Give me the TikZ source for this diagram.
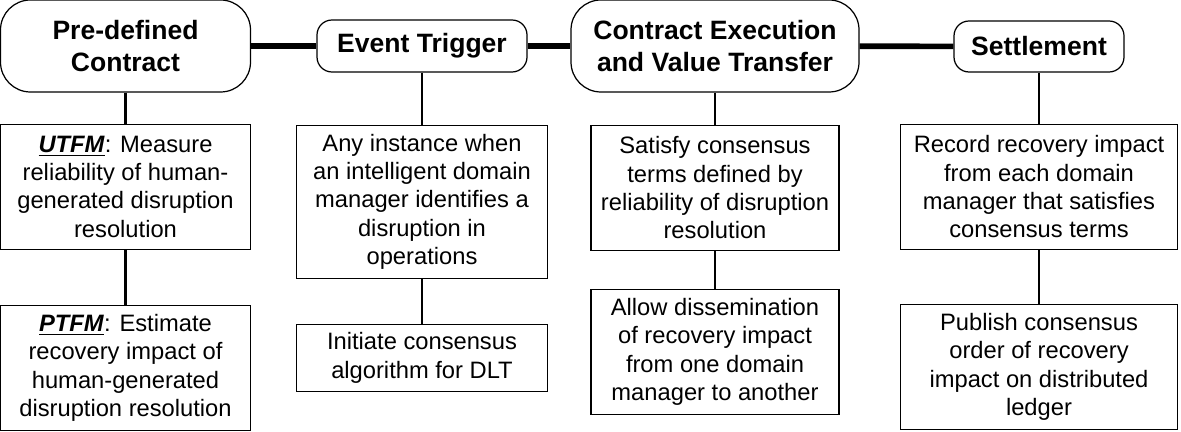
\documentclass[tikz,border=0pt]{standalone}
\usepackage{fontspec}
\setmainfont{Liberation Sans}
\usepackage{tikz}
\usetikzlibrary{positioning}
\tikzset{
  phase/.style={draw=black, line width=0.7pt, fill=white, align=center, font=\fontsize{15.1}{18.2}\selectfont\bfseries, inner sep=2pt},
  task/.style={draw=black, line width=0.7pt, fill=white, align=center, font=\fontsize{13.5}{16.1}\selectfont, inner sep=2pt, minimum height=2.5cm},
  link/.style={line width=3.2pt},
  drop/.style={line width=1.5pt},
}
\newcommand{\tag}[1]{\underline{\textbf{\textit{#1}}}}

\begin{document}
\begin{tikzpicture}
  \useasboundingbox (0,0) rectangle (23.62,-8.64);

  % The four phases across the top
  \node[phase, rounded corners=6mm, minimum width=5cm, minimum height=1.84cm]
    (pdc) at (2.51,-0.92) {Pre-defined\\Contract};
  \node[phase, rounded corners=3mm, minimum width=4.2cm, minimum height=1.04cm]
    (evt) at (8.44,-0.92) {Event Trigger};
  \node[phase, rounded corners=6mm, minimum width=5.76cm, minimum height=1.84cm]
    (cev) at (14.3,-0.92) {Contract Execution\\and Value Transfer};
  \node[phase, rounded corners=3mm, minimum width=3.4cm, minimum height=1.02cm]
    (stl) at (20.78,-0.93) {Settlement};

  \draw[link] (pdc) -- (evt);
  \draw[link] (evt) -- (cev);
  \draw[link] (cev) -- (stl);

  % Steps hanging below each phase
  \node[task, minimum width=5cm, below=0.62cm of pdc] (utfm)
    {\tag{UTFM}: Measure\\reliability of human-\\generated disruption\\resolution};
  \node[task, minimum width=5cm, below=1.1cm of utfm] (ptfm)
    {\tag{PTFM}: Estimate\\recovery impact of\\human-generated\\disruption resolution};

  \node[task, minimum width=5.02cm, minimum height=3.06cm, below=1.04cm of evt] (any)
    {Any instance when\\an intelligent domain\\manager identifies a\\disruption in\\operations};
  \node[task, minimum width=5.02cm, minimum height=1.34cm, below=0.9cm of any] (init)
    {Initiate consensus\\algorithm for DLT};

  \node[task, minimum width=4.96cm, below=0.64cm of cev] (sat)
    {Satisfy consensus\\terms defined by\\reliability of disruption\\resolution};
  \node[task, minimum width=4.96cm, below=0.76cm of sat] (allow)
    {Allow dissemination\\of recovery impact\\from one domain\\manager to another};

  \node[task, minimum width=5.54cm, below=1.02cm of stl] (rec)
    {Record recovery impact\\from each domain\\manager that satisfies\\consensus terms};
  \node[task, minimum width=5.54cm, below=1.08cm of rec] (pub)
    {Publish consensus\\order of recovery\\impact on distributed\\ledger};

  \draw[drop] (pdc) -- (utfm);
  \draw[drop] (utfm) -- (ptfm);
  \draw[drop] (evt) -- (any);
  \draw[drop] (any) -- (init);
  \draw[drop] (cev) -- (sat);
  \draw[drop] (sat) -- (allow);
  \draw[drop] (stl) -- (rec);
  \draw[drop] (rec) -- (pub);
\end{tikzpicture}
\end{document}
